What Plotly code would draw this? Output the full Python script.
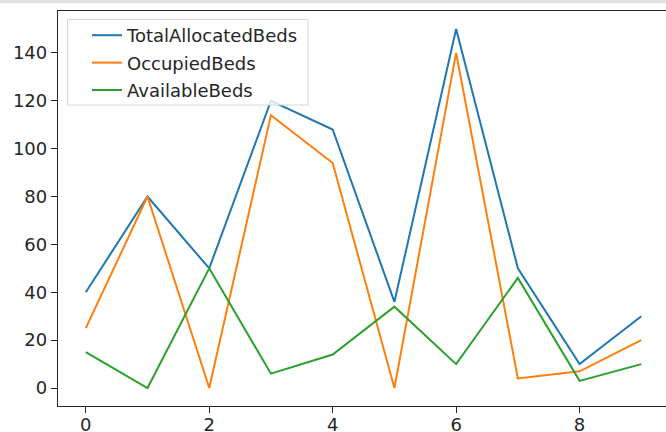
import plotly.graph_objects as go

x_index = [0, 1, 2, 3, 4, 5, 6, 7, 8, 9]
total_allocated = [40, 80, 50, 120, 108, 36, 150, 50, 10, 30]
occupied = [25, 80, 0, 114, 94, 0, 140, 4, 7, 20]
available = [15, 0, 50, 6, 14, 34, 10, 46, 3, 10]
y_ticks = [0, 20, 40, 60, 80, 100, 120, 140]
x_ticks = [0, 2, 4, 6, 8]

series = [
    ("TotalAllocatedBeds", total_allocated, "#1f77b4"),
    ("OccupiedBeds", occupied, "#ff7f0e"),
    ("AvailableBeds", available, "#2ca02c"),
]

fig = go.Figure()
for i, (name, vals, col) in enumerate(series):
    fig.add_trace(go.Scatter(
        x=x_index, y=vals, mode="lines", name=name,
        line=dict(color=col, width=2), legendgroup=f"g{i}",
    ))

W, H = 666, 432
L, T, B, R = 58, 11, 26, 0
plot_w = W - L - R
plot_h = H - T - B


def px_x(p):
    return (p - L) / plot_w


def px_y(p):
    return 1 - (p - T) / plot_h


FS = 18
fig.update_layout(
    width=W, height=H,
    margin=dict(l=L, r=R, t=T, b=B, pad=0),
    paper_bgcolor="white", plot_bgcolor="white",
    font=dict(family="DejaVu Sans", size=FS, color="#262626"),
    showlegend=True,
    legend=dict(
        x=px_x(87), y=px_y(17),
        xanchor="left", yanchor="top",
        bgcolor="rgba(0,0,0,0)", borderwidth=0,
        font=dict(size=FS, color="#262626"),
        tracegroupgap=1,
    ),
    xaxis=dict(
        range=[-0.45, 9.40], tickvals=x_ticks, ticktext=[str(v) for v in x_ticks],
        showgrid=False, zeroline=False, showline=True, linecolor="#262626",
        linewidth=1.3, mirror=True, ticks="outside", ticklen=6, tickwidth=1.2,
        tickcolor="#262626", tickfont=dict(size=FS, color="#262626"),
        automargin=False, ticklabelstandoff=-4,
    ),
    yaxis=dict(
        range=[-7.5, 157.5], tickvals=y_ticks, ticktext=[str(v) for v in y_ticks],
        showgrid=False, zeroline=False, showline=True, linecolor="#262626",
        linewidth=1.3, mirror=False, ticks="outside", ticklen=6, tickwidth=1.2,
        tickcolor="#262626", tickfont=dict(size=FS, color="#262626"),
        automargin=False,
    ),
    shapes=[
        dict(
            type="rect", xref="paper", yref="paper",
            x0=px_x(0), x1=1.0, y0=px_y(3.5), y1=px_y(0),
            fillcolor="#e2e3e5", line=dict(width=0), layer="above",
        ),
        dict(
            type="rect", xref="paper", yref="paper",
            x0=px_x(67.5), x1=px_x(308), y0=px_y(105), y1=px_y(19.5),
            fillcolor="rgba(255,255,255,0.8)", line=dict(width=1, color="#d6d6d6"),
            layer="above",
        ),
    ],
)

fig.write_html(
    "out.html",
    config={"displayModeBar": False},
    post_script="document.body.style.margin='0';",
)
